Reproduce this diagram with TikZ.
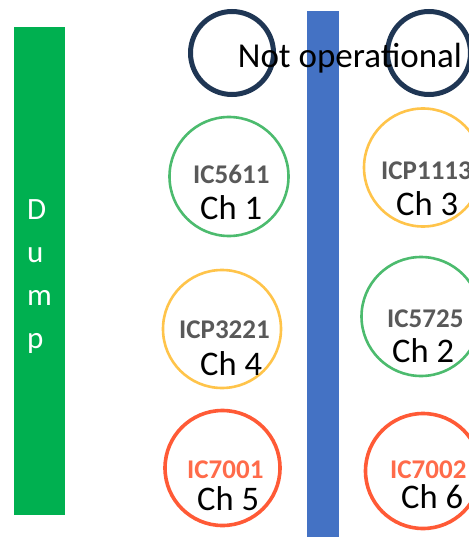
\documentclass[tikz,border=0pt]{standalone}
\usepackage{fontspec}
\setmainfont{Carlito}
\definecolor{dumpgreen}{HTML}{00B050}
\definecolor{barblue}{HTML}{4472C4}
\definecolor{navy}{HTML}{1F3654}
\definecolor{cgreen}{HTML}{4CBB6E}
\definecolor{cyellow}{HTML}{FFC44A}
\definecolor{cred}{HTML}{FF5A36}
\definecolor{tred}{HTML}{FF6B4A}
\definecolor{tgray}{HTML}{595959}
\begin{document}
\begin{tikzpicture}[x=1pt,y=-1pt,
  ring/.style={circle,draw,inner sep=0pt,fill=none},
  navyring/.style={ring,draw=navy,line width=5pt,minimum size=83pt},
  greenring/.style={ring,draw=cgreen,line width=2.6pt,minimum size=119pt},
  yellowring/.style={ring,draw=cyellow,line width=2.6pt,minimum size=118pt},
  redring/.style={ring,draw=cred,line width=3.6pt,minimum size=115pt},
  chlabel/.style={anchor=base west,inner sep=0pt,font=\fontsize{34.5}{40}\selectfont},
  iclabel/.style={anchor=base west,inner sep=0pt,text=tgray,font=\fontsize{27}{32}\selectfont\bfseries},
  icred/.style={iclabel,text=tred},
]
\useasboundingbox (0,0) rectangle (468,537);
\fill[white] (0,0) rectangle (468,537);
% Dump bar
\node[fill=dumpgreen,minimum width=51pt,minimum height=488pt,inner sep=0pt,anchor=north west] (dumpbar) at (14,27) {};
\node[text=white,align=left,anchor=west,inner sep=0pt,font=\fontsize{31}{43}\selectfont] (dump) at (27,277) {D\\u\\m\\p};
% blue divider
\node[fill=barblue,minimum width=32pt,minimum height=526pt,inner sep=0pt,anchor=north west] (divider) at (307,11) {};
% rings
\node[navyring] (n1) at (232,53) {};
\node[navyring] (n2) at (429,53) {};
\node[greenring] (c1) at (229,176.5) {};
\node[yellowring] (c3) at (423,167.5) {};
\node[yellowring] (c4) at (222,329) {};
\node[greenring] (c2) at (421,316.5) {};
\node[redring] (c5) at (222.5,468) {};
\node[redring] (c6) at (423,471) {};
% labels
\node[chlabel,font=\fontsize{35}{42}\selectfont] (notop) at (237.7,68) {Not operational};
\node[iclabel] (i1) at (193,184) {IC5611};
\node[chlabel] (l1) at (200,219) {Ch 1};
\node[iclabel] (i3) at (381,180) {ICP1113};
\node[chlabel] (l3) at (396,215) {Ch 3};
\node[iclabel] (i4) at (179,338) {ICP3221};
\node[chlabel] (l4) at (200,375) {Ch 4};
\node[iclabel] (i2) at (387,327) {IC5725};
\node[chlabel] (l2) at (392,362) {Ch 2};
\node[icred] (i5) at (187,478) {IC7001};
\node[chlabel] (l5) at (197,510) {Ch 5};
\node[icred] (i6) at (390,478) {IC7002};
\node[chlabel] (l6) at (401,508) {Ch 6};
\end{tikzpicture}
\end{document}
